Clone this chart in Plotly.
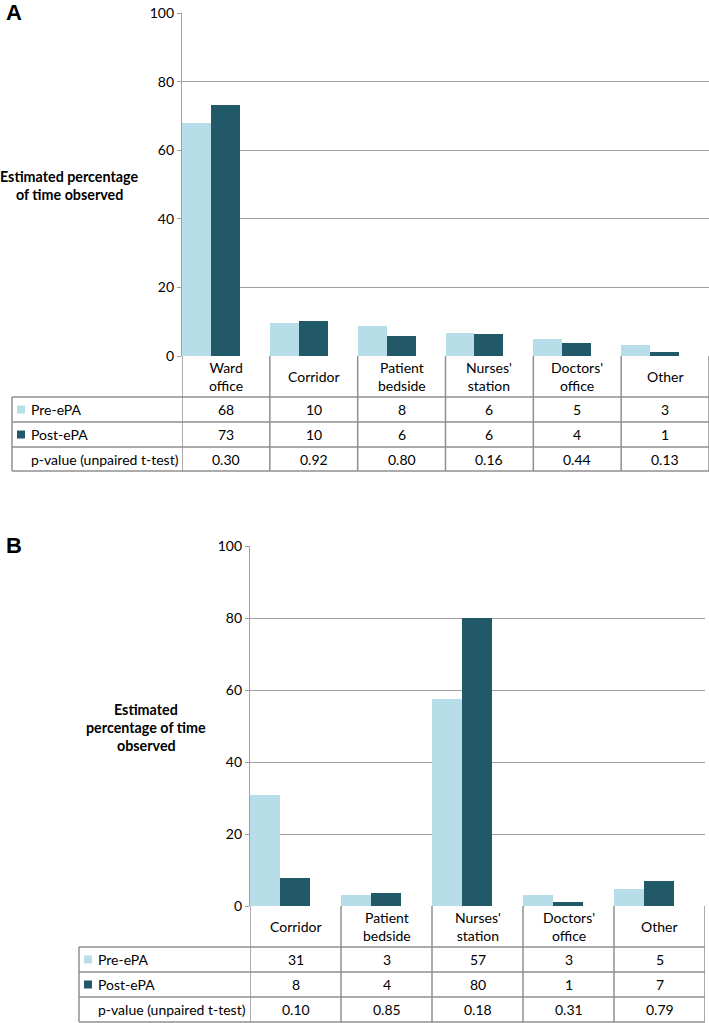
import plotly.graph_objects as go

# ---------------- data ----------------
cats_a = ["Ward<br>office", "Corridor", "Patient<br>bedside", "Nurses'<br>station", "Doctors'<br>office", "Other"]
pre_a = [67.8, 9.6, 8.7, 6.7, 5.0, 3.3]
post_a = [73.1, 10.3, 5.8, 6.3, 3.7, 1.3]
pre_a_lbl = ["68", "10", "8", "6", "5", "3"]
post_a_lbl = ["73", "10", "6", "6", "4", "1"]
p_a_lbl = ["0.30", "0.92", "0.80", "0.16", "0.44", "0.13"]

cats_b = ["Corridor", "Patient<br>bedside", "Nurses'<br>station", "Doctors'<br>office", "Other"]
pre_b = [30.8, 3.1, 57.5, 3.1, 4.6]
post_b = [7.7, 3.5, 80.0, 1.1, 7.0]
pre_b_lbl = ["31", "3", "57", "3", "5"]
post_b_lbl = ["8", "4", "80", "1", "7"]
p_b_lbl = ["0.10", "0.85", "0.18", "0.31", "0.79"]

y_ticks = [0, 20, 40, 60, 80, 100]
row_names = ["Pre-ePA", "Post-ePA", "p-value (unpaired t-test)"]

# ---------------- style ----------------
W, H = 709, 1023
PRE_C = "#b7dde8"
POST_C = "#215968"
GRID_C = "#a0a0a0"
TAB_C = "#8f8f8f"
FONT = "Lato"
BW = 0.33


def X(px):
    return px / W


def Y(py):
    return 1 - py / H


fig = go.Figure()

panels = [
    dict(cats=cats_a, pre=pre_a, post=post_a, rows=[pre_a_lbl, post_a_lbl, p_a_lbl],
         xa="x", ya="y", x0=182, x1=709, ytop=13, y0=356, tleft=12,
         rows_y=[397, 422, 447, 471], letter="A", letter_y=13,
         title=["Estimated percentage", "of time observed"], title_x=69, title_y=[176, 194]),
    dict(cats=cats_b, pre=pre_b, post=post_b, rows=[pre_b_lbl, post_b_lbl, p_b_lbl],
         xa="x2", ya="y2", x0=250, x1=705, ytop=546, y0=906, tleft=79,
         rows_y=[947, 972, 997, 1022], letter="B", letter_y=545,
         title=["Estimated", "percentage of time", "observed"], title_x=146, title_y=[709, 727, 745]),
]

shapes = []
annotations = []

for i, p in enumerate(panels):
    n = len(p["cats"])
    idx = list(range(n))
    fig.add_trace(go.Bar(x=idx, y=p["pre"], offset=0, width=BW, marker_color=PRE_C,
                         marker_line_width=0, xaxis=p["xa"], yaxis=p["ya"], showlegend=False,
                         hoverinfo="y"))
    fig.add_trace(go.Bar(x=idx, y=p["post"], offset=BW, width=BW, marker_color=POST_C,
                         marker_line_width=0, xaxis=p["xa"], yaxis=p["ya"], showlegend=False,
                         hoverinfo="y"))

    sfx = "" if i == 0 else "2"
    fig.update_layout(**{
        "xaxis" + sfx: dict(domain=[X(p["x0"]), X(p["x1"])], range=[0, n], showgrid=False,
                            showticklabels=False, zeroline=False, showline=False, fixedrange=True,
                            anchor="y" + sfx),
        "yaxis" + sfx: dict(domain=[Y(p["y0"]), Y(p["ytop"])], range=[0, 100], tickvals=y_ticks,
                            showgrid=True, gridcolor=GRID_C, gridwidth=1.3, zeroline=False,
                            showline=True, linecolor=GRID_C, linewidth=1.3, ticks="outside",
                            ticklen=4, tickcolor=GRID_C, tickwidth=1.3,
                            tickfont=dict(family=FONT, size=14, color="black"),
                            anchor="x" + sfx, fixedrange=True),
    })

    xref = p["xa"]
    ry = p["rows_y"]
    for k, yy in enumerate(ry):
        shapes.append(dict(type="line", xref="paper", yref="paper", x0=X(p["tleft"]), x1=X(p["x1"]),
                           y0=Y(yy), y1=Y(yy), line=dict(color=TAB_C, width=1.5), layer="above"))
    shapes.append(dict(type="line", xref="paper", yref="paper", x0=X(p["tleft"]), x1=X(p["tleft"]),
                       y0=Y(ry[0]), y1=Y(ry[-1]), line=dict(color=TAB_C, width=1.5)))
    for k in range(n + 1):
        shapes.append(dict(type="line", xref=xref, yref="paper", x0=k, x1=k,
                           y0=Y(p["y0"]), y1=Y(ry[-1]), line=dict(color=TAB_C, width=1.5)))
    for k, c in enumerate(p["cats"]):
        annotations.append(dict(xref=xref, yref="paper", x=k + 0.5, y=Y((p["y0"] + ry[0]) / 2),
                                text=c, showarrow=False, font=dict(family=FONT, size=14, color="black"),
                                xanchor="center", yanchor="middle"))
    for r in range(3):
        yc = Y((ry[r] + ry[r + 1]) / 2)
        for k, v in enumerate(p["rows"][r]):
            annotations.append(dict(xref=xref, yref="paper", x=k + 0.5, y=yc, text=v,
                                    showarrow=False, font=dict(family=FONT, size=14, color="black"),
                                    xanchor="center", yanchor="middle"))
        annotations.append(dict(xref="paper", yref="paper", x=X(p["tleft"] + 17), y=yc,
                                text=row_names[r], showarrow=False,
                                font=dict(family=FONT, size=14, color="black"),
                                xanchor="left", yanchor="middle"))
        if r < 2:
            col = PRE_C if r == 0 else POST_C
            shapes.append(dict(type="rect", xref="paper", yref="paper",
                               x0=X(p["tleft"] + 5), x1=X(p["tleft"] + 13),
                               y0=yc - 4 / H, y1=yc + 4 / H, fillcolor=col, line=dict(width=0)))
    annotations.append(dict(xref="paper", yref="paper", x=X(4), y=Y(p["letter_y"]), text="<b>" + p["letter"] + "</b>",
                            showarrow=False, font=dict(family="Liberation Sans", size=22, color="black"),
                            xanchor="left", yanchor="middle"))
    for line, ty in zip(p["title"], p["title_y"]):
        annotations.append(dict(xref="paper", yref="paper", x=X(p["title_x"]), y=Y(ty), text="<b>" + line + "</b>",
                                showarrow=False, font=dict(family=FONT, size=14.3, color="black"),
                                xanchor="center", yanchor="middle"))

fig.update_layout(width=W, height=H, margin=dict(l=0, r=0, t=0, b=0, autoexpand=False),
                  paper_bgcolor="white", plot_bgcolor="white", shapes=shapes,
                  annotations=annotations, bargap=0)

fig.write_html("out.html", config={"displayModeBar": False, "responsive": False},
               post_script="document.body.style.margin='0';document.body.style.overflow='hidden';")
